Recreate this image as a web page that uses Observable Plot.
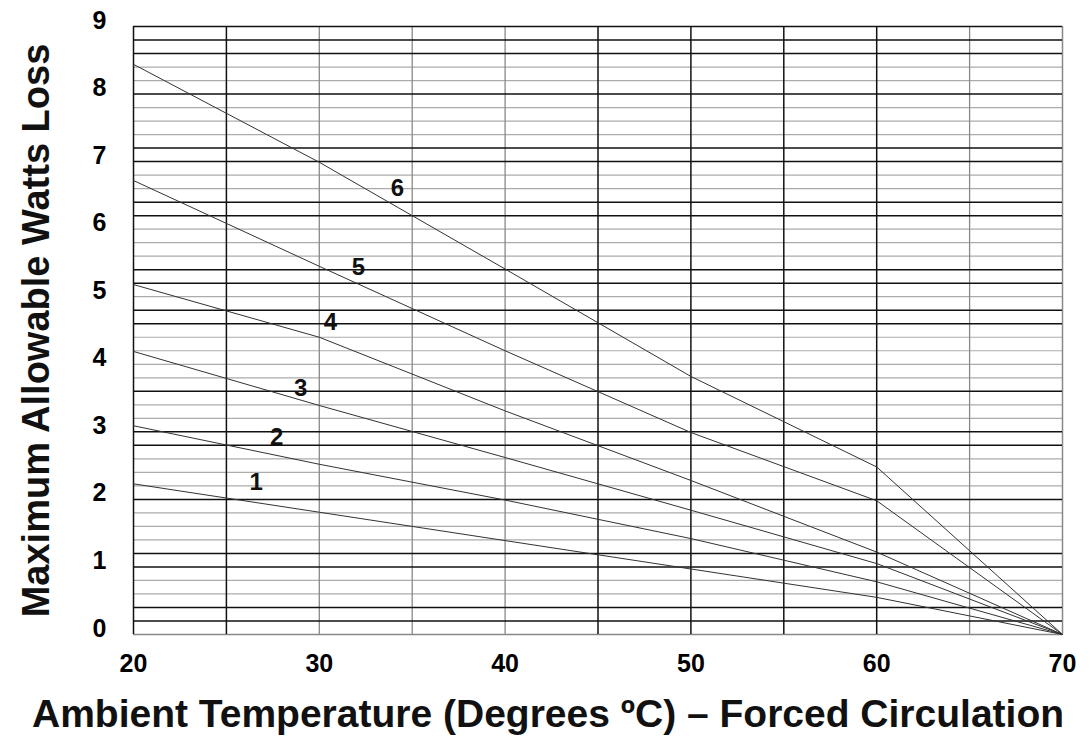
<!DOCTYPE html>
<html>
<head>
<meta charset="utf-8">
<script src="https://cdn.jsdelivr.net/npm/d3@7"></script>
<script src="https://cdn.jsdelivr.net/npm/@observablehq/plot@0.6"></script>
<style>
  html, body { margin: 0; padding: 0; background: #fff; }
  #chart svg { display: block; font-family: "Liberation Sans", Arial, sans-serif; }
</style>
</head>
<body>
<div id="chart"></div>
<script>
// ---- data ----
const temps = [20, 30, 40, 50, 60, 70];
const curve1 = [2.23, 1.81, 1.39, 0.97, 0.55, 0];
const curve2 = [3.09, 2.52, 1.99, 1.42, 0.78, 0];
const curve3 = [4.19, 3.39, 2.62, 1.84, 1.05, 0];
const curve4 = [5.18, 4.40, 3.31, 2.28, 1.22, 0];
const curve5 = [6.72, 5.45, 4.20, 2.99, 1.98, 0];
const curve6 = [8.44, 6.99, 5.41, 3.82, 2.48, 0];
const curveNames = ["1", "2", "3", "4", "5", "6"];
const labelTemp = [26.6, 27.7, 29.0, 30.6, 32.1, 34.2];
const labelWatts = [2.25, 2.92, 3.64, 4.62, 5.43, 6.60];

const xTicks = [20, 30, 40, 50, 60, 70];
const yTicks = [0, 1, 2, 3, 4, 5, 6, 7, 8, 9];
const xGridDark = [20, 25, 45, 50, 55, 60];
const xGridLight = [30, 35, 40, 65];
const yGridDark = [0.2, 0.4, 1.0, 1.2, 2.0, 2.8, 3.0, 3.6, 4.6, 4.8, 5.2, 5.4, 6.2, 6.4, 7.0, 7.2, 8.0, 8.6, 8.8, 9.0];
const yGridAll = d3.range(0, 46).map(k => +(k * 0.2).toFixed(1));

const xTitle = "Ambient Temperature (Degrees ºC) – Forced Circulation";
const yTitle = "Maximum Allowable Watts Loss";

// ---- build ----
const curves = [curve1, curve2, curve3, curve4, curve5, curve6];
const rows = curves.flatMap((c, i) => c.map((v, j) => ({ name: curveNames[i], t: temps[j], w: v })));
const labels = curveNames.map((n, i) => ({ name: n, t: labelTemp[i], w: labelWatts[i] }));
const yGridLight = yGridAll.filter(v => !yGridDark.includes(v) && v !== 0);

const chart = Plot.plot({
  width: 1090,
  height: 744,
  marginLeft: 133,
  marginRight: 28,
  marginTop: 26,
  marginBottom: 110,
  x: { domain: [20, 70] },
  y: { domain: [0, 9] },
  marks: [
    Plot.ruleY(yGridLight, { stroke: "#ababab", strokeWidth: 1.2 }),
    Plot.ruleX(xGridLight, { stroke: "#888", strokeWidth: 1.3 }),
    Plot.ruleY([0], { stroke: "#888", strokeWidth: 1.5 }),
    Plot.ruleX([70], { stroke: "#888", strokeWidth: 1.5 }),
    Plot.ruleY(yGridDark, { stroke: "#111", strokeWidth: 1.5 }),
    Plot.ruleX(xGridDark, { stroke: "#111", strokeWidth: 1.5 }),
    Plot.line(rows, { x: "t", y: "w", z: "name", stroke: "#333", strokeWidth: 1 }),
    Plot.text(labels, { x: "t", y: "w", text: "name", fontSize: 24, fontWeight: "bold", fill: "#111" }),
    Plot.axisX(xTicks, { tickSize: 0, tickPadding: 20, fontSize: 25, fontWeight: "bold", label: null, tickFormat: d => String(d) }),
    Plot.axisY(yTicks, { tickSize: 0, tickPadding: 27, fontSize: 25, fontWeight: "bold", label: null, dy: -6, tickFormat: d => String(d) }),
    Plot.text([xTitle], { frameAnchor: "bottom", lineAnchor: "middle", textAnchor: "middle", dx: -50, dy: 80, fontSize: 39, fontWeight: "bold", fill: "#111" }),
    Plot.text([yTitle], { frameAnchor: "left", lineAnchor: "middle", textAnchor: "middle", rotate: -90, dx: -97, fontSize: 38, fontWeight: "bold", fill: "#111" })
  ]
});
document.getElementById("chart").appendChild(chart);
</script>
</body>
</html>
